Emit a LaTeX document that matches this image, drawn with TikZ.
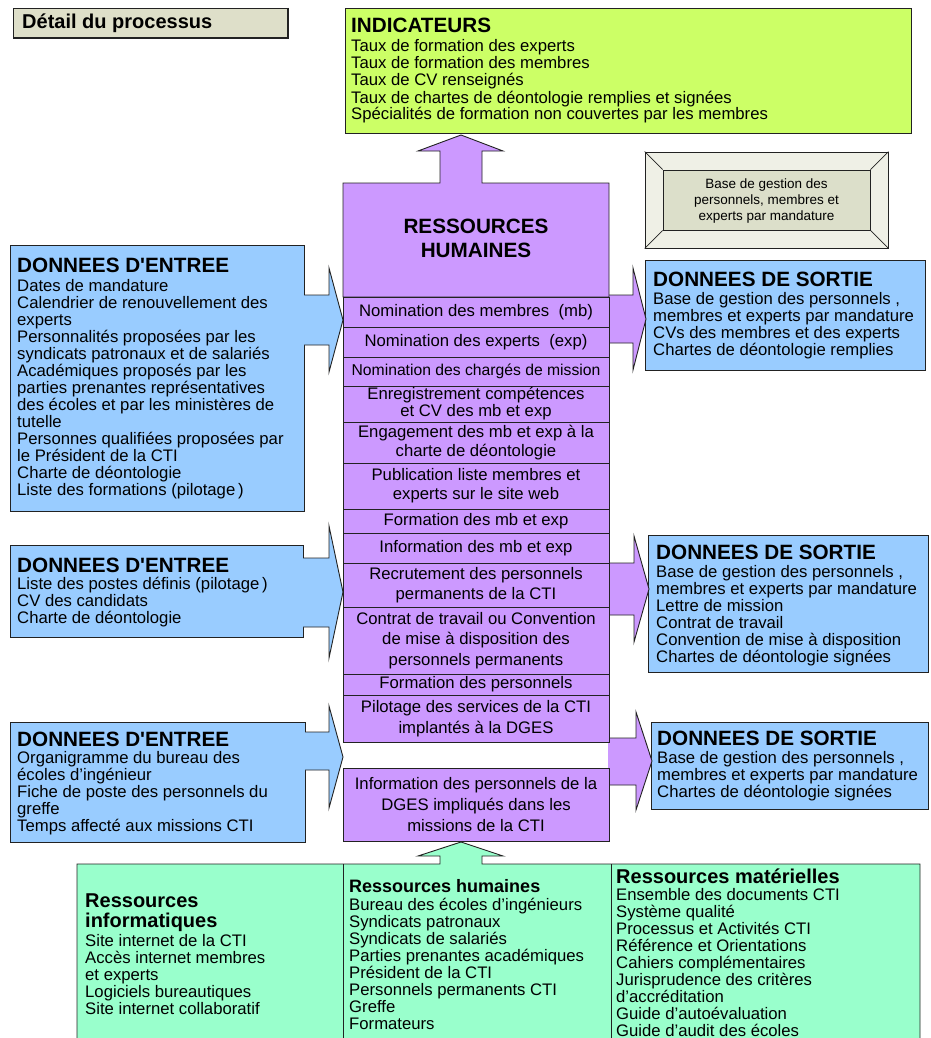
\documentclass[tikz,border=0pt]{standalone}
\usepackage{fontspec}
\setmainfont{Liberation Sans}
\usetikzlibrary{calc}
\definecolor{blu}{HTML}{99CCFF}
\definecolor{pur}{HTML}{CC99FF}
\definecolor{lim}{HTML}{CCFF66}
\definecolor{mint}{HTML}{99FFCC}
\definecolor{tbox}{HTML}{DEDFC9}
\definecolor{bevout}{HTML}{EFF0E6}
\definecolor{bevin}{HTML}{DCDFCA}
\definecolor{ink}{HTML}{222222}
\newcommand\txtlines[4]{%
  \foreach \t [count=\i from 0] in {#4} {\node[txt, anchor=base west] (#1-\i) at (#2, #3+17*\i) {\t};}}
\begin{document}
\begin{tikzpicture}[x=1pt,y=-1pt,line join=miter]
\tikzset{
  edge/.style={draw=ink, line width=0.9pt},
  txt/.style={inner sep=0pt, font=\fontsize{16.7}{17}\selectfont},
  ttl/.style={inner sep=0pt, font=\fontsize{20.7}{22}\selectfont\bfseries},
  gttl/.style={inner sep=0pt, font=\fontsize{20}{20}\selectfont\bfseries},
  boxn/.style={edge, anchor=north west, inner sep=0pt},
  row/.style={edge, fill=pur, minimum width=266pt, inner sep=0pt, align=center,
     font=\fontsize{16.7}{20}\selectfont},
}
\useasboundingbox (0,0) rectangle (930,1038);
\fill[white] (0,0) rectangle (930,1038);

% title box
\node[boxn, fill=tbox, minimum width=274pt, minimum height=29pt] (titre) at (13,8) {};
\draw[ink, line width=1.4pt] (titre.north east) -- (titre.south east) -- (titre.south west);
\node[inner sep=0pt, anchor=base west, font=\fontsize{20}{20}\selectfont\bfseries] (titret) at (22,29) {Détail du processus};

% INDICATEURS
\node[boxn, fill=lim, minimum width=566pt, minimum height=125pt] (indic) at (345,8) {};
\node[ttl, anchor=base west] (indict) at (351,32.5) {INDICATEURS};
\txtlines{ind}{351}{52}{Taux de formation des experts, Taux de formation des membres, Taux de CV renseignés, Taux de chartes de déontologie remplies et signées, Spécialités de formation non couvertes par les membres}

% bevel box
\node[edge, fill=bevout, minimum width=243pt, minimum height=96pt, inner sep=0pt] (base) at (766.5,200) {};
\node[edge, fill=bevin, minimum width=207pt, minimum height=60pt, inner sep=0pt] (basein) at (766.5,200) {};
\draw[ink, line width=0.7pt] (base.north west) -- (basein.north west) (base.north east) -- (basein.north east)
  (base.south west) -- (basein.south west) (base.south east) -- (basein.south east);
\node[inner sep=0pt, align=center, font=\fontsize{13.5}{16}\selectfont] (baset) at (766.5,201) {Base de gestion des\\personnels, membres et\\experts par mandature};

% left input boxes
\node[boxn, fill=blu, minimum width=294pt, minimum height=266pt] (in1) at (10,245) {};
\node[boxn, fill=blu, minimum width=293pt, minimum height=92pt] (in2) at (10,545) {};
\node[boxn, fill=blu, minimum width=295pt, minimum height=120pt] (in3) at (10,722) {};
% right output boxes
\node[boxn, fill=blu, minimum width=280pt, minimum height=110pt] (out1) at (645,260) {};
\node[boxn, fill=blu, minimum width=280pt, minimum height=137pt] (out2) at (648,535) {};
\node[boxn, fill=blu, minimum width=277pt, minimum height=87pt] (out3) at (651,722) {};

% input block arrows
\fill[blu] (302,295) -- (329,295) -- (329,268) -- (343,320) -- (329,372) -- (329,345) -- (302,345) -- cycle;
\draw[edge] (304,295) -- (329,295) -- (329,268) -- (343,320) -- (329,372) -- (329,345) -- (304,345);
\fill[blu] (301,558) -- (329,558) -- (329,526) -- (343,592) -- (329,658) -- (329,627) -- (301,627) -- cycle;
\draw[edge] (303,558) -- (329,558) -- (329,526) -- (343,592) -- (329,658) -- (329,627) -- (303,627);
\fill[blu] (303,732) -- (329,732) -- (329,706) -- (343,757) -- (329,808) -- (329,770) -- (303,770) -- cycle;
\draw[edge] (305,732) -- (329,732) -- (329,706) -- (343,757) -- (329,808) -- (329,770) -- (305,770);

% output block arrows
\fill[pur] (608,295) -- (633,295) -- (633,268) -- (646,319) -- (633,370) -- (633,343) -- (608,343) -- cycle;
\draw[edge] (609,295) -- (633,295) -- (633,268) -- (646,319) -- (633,370) -- (633,343) -- (609,343);
\fill[pur] (608,563) -- (634,563) -- (634,536) -- (649,589) -- (634,642) -- (634,615) -- (608,615) -- cycle;
\draw[edge] (609,563) -- (634,563) -- (634,536) -- (649,589) -- (634,642) -- (634,615) -- (609,615);
\fill[pur] (608,738) -- (636,738) -- (636,712) -- (652,761) -- (636,810) -- (636,785) -- (608,785) -- cycle;
\draw[edge] (609,738) -- (636,738) -- (636,712) -- (652,761) -- (636,810) -- (636,785) -- (609,785);

% central header with up arrow
\draw[edge, fill=pur] (343,297) -- (343,183) -- (440,183) -- (440,151) -- (418,151) -- (461,135)
  -- (503,151) -- (482,151) -- (482,183) -- (609,183) -- (609,297) -- cycle;
\node[inner sep=0pt, align=center, font=\fontsize{20.7}{24}\selectfont\bfseries] (rh) at (476,238) {RESSOURCES\\HUMAINES};

% rows
\node[row, minimum height=30pt] (r1) at (476,312) {Nomination des membres~~(mb)};
\node[row, minimum height=30pt] (r2) at (476,342) {Nomination des experts~~(exp)};
\node[row, minimum height=29pt, font=\fontsize{15.7}{17}\selectfont] (r3) at (476,371.5) {Nomination des chargés de mission};
\node[row, minimum height=36pt, font=\fontsize{16.7}{17}\selectfont] (r4) at (476,404) {Enregistrement compétences\\et CV des mb et exp};
\node[row, minimum height=41pt, font=\fontsize{16.7}{19}\selectfont] (r5) at (476,442.5) {Engagement des mb et exp à la\\charte de déontologie};
\node[row, minimum height=46pt, font=\fontsize{16.7}{19}\selectfont] (r6) at (476,486) {Publication liste membres et\\experts sur le site web};
\node[row, minimum height=24pt] (r7) at (476,521) {Formation des mb et exp};
\node[row, minimum height=30pt] (r8) at (476,548) {Information des mb et exp};
\node[row, minimum height=44pt] (r9) at (476,585) {Recrutement des personnels\\permanents de la CTI};
\node[row, minimum height=67pt, font=\fontsize{16.7}{20.5}\selectfont] (r10) at (476,640.5) {Contrat de travail ou Convention\\de mise à disposition des\\personnels permanents};
\node[row, minimum height=21pt] (r11) at (476,684.5) {Formation des personnels};
\node[row, minimum height=47pt, font=\fontsize{16.7}{21}\selectfont] (r12) at (476,718.5) {Pilotage des services de la CTI\\implantés à la DGES};
\node[row, minimum height=73pt, font=\fontsize{16.7}{21}\selectfont] (r13) at (476,804.5) {Information des personnels de la\\DGES impliqués dans les\\missions de la CTI};

% input texts
\node[ttl, anchor=base west] (in1t) at (17,272.5) {DONNEES D\textquotesingle ENTREE};
\txtlines{in1l}{17}{291}{Dates de mandature, Calendrier de renouvellement des, experts, Personnalités proposées par les, syndicats patronaux et de salariés, Académiques proposés par les, parties prenantes représentatives, des écoles et par les ministères de, tutelle, Personnes qualifiées proposées par, le Président de la CTI, Charte de déontologie, Liste des formations (pilotage\,)}
\node[ttl, anchor=base west] (in2t) at (17,572) {DONNEES D\textquotesingle ENTREE};
\txtlines{in2l}{17}{589}{Liste des postes définis (pilotage\,), CV des candidats, Charte de déontologie}
\node[ttl, anchor=base west] (in3t) at (17,746) {DONNEES D\textquotesingle ENTREE};
\txtlines{in3l}{17}{763}{Organigramme du bureau des, écoles d’ingénieur, Fiche de poste des personnels du, greffe, Temps affecté aux missions CTI}

% output texts
\node[ttl, anchor=base west] (out1t) at (653,286) {DONNEES DE SORTIE};
\txtlines{out1l}{653}{304}{{Base de gestion des personnels ,}, membres et experts par mandature, CVs des membres et des experts, Chartes de déontologie remplies}
\node[ttl, anchor=base west] (out2t) at (656,559) {DONNEES DE SORTIE};
\txtlines{out2l}{656}{577}{{Base de gestion des personnels ,}, membres et experts par mandature, Lettre de mission, Contrat de travail, Convention de mise à disposition, Chartes de déontologie signées}
\node[ttl, anchor=base west] (out3t) at (657,745) {DONNEES DE SORTIE};
\txtlines{out3l}{657}{763}{{Base de gestion des personnels ,}, membres et experts par mandature, Chartes de déontologie signées}

% bottom resources box with up arrow
\draw[edge, fill=mint] (77,1045) -- (77,864) -- (440,864) -- (440,856) -- (418,856) -- (461,842)
  -- (503,856) -- (482,856) -- (482,864) -- (920,864) -- (920,1045);
\coordinate (d1a) at (343,864); \coordinate (d1b) at (343,1045);
\coordinate (d2a) at (611,864); \coordinate (d2b) at (611,1045);
\draw[edge] (d1a) -- (d1b) (d2a) -- (d2b);

\node[gttl, anchor=base west] (g1t) at (85,907) {Ressources};
\node[gttl, anchor=base west] (g1t2) at (85,927) {informatiques};
\txtlines{g1l}{85}{946}{Site internet de la CTI, Accès internet membres, et experts, Logiciels bureautiques, Site internet collaboratif}
\node[gttl, anchor=base west, font=\fontsize{18}{18}\selectfont\bfseries] (g2t) at (349,892) {Ressources humaines};
\txtlines{g2l}{349}{910}{Bureau des écoles d’ingénieurs, Syndicats patronaux, Syndicats de salariés, Parties prenantes académiques, Président de la CTI, Personnels permanents CTI, Greffe, Formateurs}
\node[gttl, anchor=base west] (g3t) at (616,883) {Ressources matérielles};
\txtlines{g3l}{616}{900}{Ensemble des documents CTI, Système qualité, Processus et Activités CTI, Référence et Orientations, Cahiers complémentaires, Jurisprudence des critères, d’accréditation, Guide d’autoévaluation, Guide d’audit des écoles}
\end{tikzpicture}
\end{document}
